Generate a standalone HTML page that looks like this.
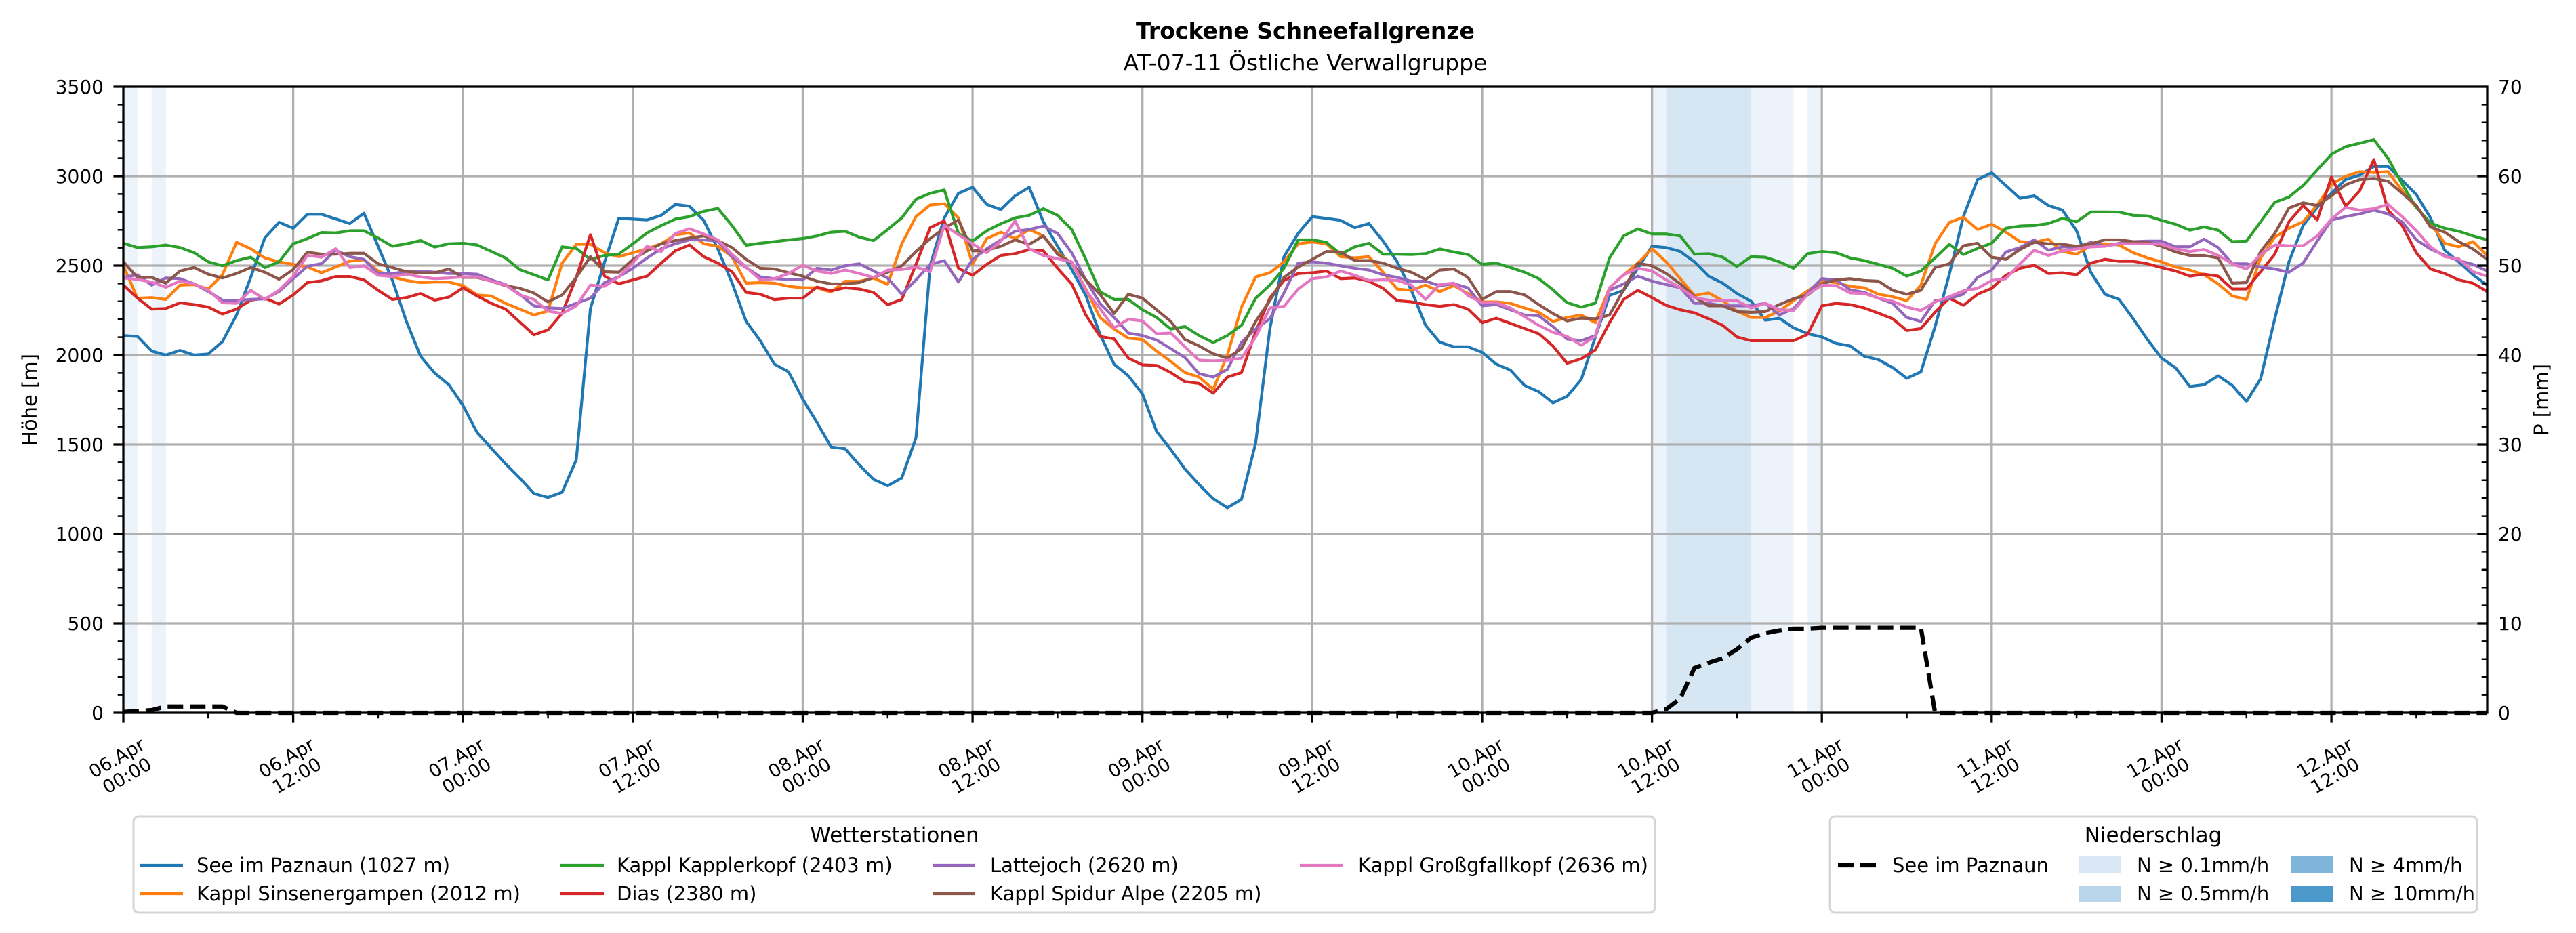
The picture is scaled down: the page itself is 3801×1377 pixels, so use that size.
<!DOCTYPE html>
<html><head><meta charset="utf-8"><style>
html,body{margin:0;padding:0;background:#fff;}
svg{display:block;font-family:"DejaVu Sans","Liberation Sans",sans-serif;}
</style></head><body>
<svg width="3801" height="1377" viewBox="0 0 3801 1377" xmlns="http://www.w3.org/2000/svg">
<rect x="0" y="0" width="3801" height="1377" fill="#fff"/>
<!-- title -->
<text x="1926" y="57" text-anchor="middle" font-size="33" font-weight="bold">Trockene Schneefallgrenze</text>
<text x="1926" y="104" text-anchor="middle" font-size="33">AT-07-11 Östliche Verwallgruppe</text>
<!-- precipitation shading -->
<g>
<rect x="182" y="128" width="20.9" height="924" fill="#edf3fa"/>
<rect x="223.8" y="128" width="20.9" height="924" fill="#edf3fa"/>
<rect x="2437.6" y="128" width="20.9" height="924" fill="#edf3fa"/>
<rect x="2458.5" y="128" width="125.3" height="924" fill="#d6e6f2"/>
<rect x="2583.8" y="128" width="62.6" height="924" fill="#edf3fa"/>
<rect x="2667.3" y="128" width="20.9" height="924" fill="#edf3fa"/>
</g>
<!-- grid -->
<g stroke="#b0b0b0" stroke-width="3.3" fill="none">
<path d="M432.6 128V1052M683.2 128V1052M933.9 128V1052M1184.5 128V1052M1435.1 128V1052M1685.7 128V1052M1936.3 128V1052M2187 128V1052M2437.6 128V1052M2688.2 128V1052M2938.8 128V1052M3189.4 128V1052M3440.1 128V1052"/>
<path d="M182 920H3670M182 788H3670M182 656H3670M182 524H3670M182 392H3670M182 260H3670"/>
</g>
<!-- series -->
<g transform="translate(182,1052) scale(20.885,-0.264)" fill="none" stroke-width="4.2" stroke-linejoin="round">
<polyline vector-effect="non-scaling-stroke" stroke="#1f77b4" points="0,2109 1,2104 2,2022 3,2000 4,2026 5,2000 6,2006 7,2075 8,2224 9,2434 10,2656 11,2742 12,2709 13,2787 14,2787 15,2761 16,2735 17,2793 18,2608 19,2420 20,2188 21,1993 22,1899 23,1834 24,1718 25,1566 26,1479 27,1392 28,1313 29,1226 30,1204 31,1233 32,1414 33,2260 34,2520 35,2764 36,2760 37,2755 38,2781 39,2842 40,2832 41,2753 42,2593 43,2405 44,2188 45,2080 46,1949 47,1906 48,1754 49,1624 50,1486 51,1476 52,1385 53,1305 54,1269 55,1313 56,1537 57,2500 58,2767 59,2904 60,2938 61,2842 62,2813 63,2890 64,2938 65,2745 66,2608 67,2478 68,2333 69,2116 70,1949 71,1884 72,1783 73,1573 74,1472 75,1363 76,1276 77,1197 78,1146 79,1193 80,1508 81,2145 82,2550 83,2680 84,2774 85,2764 86,2753 87,2712 88,2735 89,2637 90,2521 91,2362 92,2167 93,2072 94,2046 95,2046 96,2015 97,1949 98,1916 99,1830 100,1795 101,1733 102,1769 103,1863 104,2101 105,2333 106,2362 107,2485 108,2608 109,2601 110,2579 111,2521 112,2441 113,2402 114,2344 115,2301 116,2195 117,2206 118,2152 119,2119 120,2101 121,2065 122,2051 123,1993 124,1974 125,1930 126,1870 127,1906 128,2159 129,2449 130,2774 131,2981 132,3019 133,2948 134,2876 135,2890 136,2836 137,2810 138,2695 139,2463 140,2340 141,2311 142,2203 143,2087 144,1983 145,1928 146,1824 147,1834 148,1884 149,1830 150,1740 151,1867 152,2203 153,2521 154,2724 155,2825 156,2904 157,2981 158,3006 159,3054 160,3054 161,2977 162,2897 163,2767 164,2586 165,2521 166,2449 167,2391"/>
<polyline vector-effect="non-scaling-stroke" stroke="#ff7f0e" points="0,2499 1,2318 2,2321 3,2311 4,2391 5,2394 6,2369 7,2449 8,2630 9,2594 10,2543 11,2521 12,2507 13,2492 14,2460 15,2492 16,2525 17,2533 18,2470 19,2437 20,2417 21,2405 22,2408 23,2408 24,2388 25,2336 26,2330 27,2289 28,2257 29,2224 30,2246 31,2514 32,2619 33,2619 34,2572 35,2550 36,2572 37,2594 38,2622 39,2673 40,2683 41,2622 42,2608 43,2550 44,2402 45,2405 46,2402 47,2384 48,2376 49,2376 50,2352 51,2412 52,2412 53,2430 54,2395 55,2622 56,2774 57,2839 58,2846 59,2767 60,2507 61,2651 62,2687 63,2651 64,2702 65,2666 66,2572 67,2514 68,2369 69,2210 70,2145 71,2094 72,2087 73,2022 74,1964 75,1902 76,1877 77,1809 78,2000 79,2268 80,2437 81,2460 82,2521 83,2622 84,2632 85,2622 86,2550 87,2543 88,2550 89,2463 90,2369 91,2362 92,2391 93,2355 94,2388 95,2344 96,2297 97,2297 98,2289 99,2263 100,2239 101,2188 102,2210 103,2224 104,2181 105,2376 106,2449 107,2514 108,2594 109,2521 110,2427 111,2333 112,2347 113,2304 114,2246 115,2210 116,2210 117,2246 118,2304 119,2359 120,2413 121,2405 122,2384 123,2376 124,2340 125,2326 126,2304 127,2391 128,2622 129,2741 130,2770 131,2702 132,2731 133,2687 134,2634 135,2630 136,2648 137,2579 138,2564 139,2611 140,2622 141,2615 142,2572 143,2543 144,2521 145,2492 146,2475 147,2449 148,2398 149,2330 150,2311 151,2543 152,2659 153,2709 154,2745 155,2839 156,2955 157,2999 158,3025 159,3020 160,3025 161,2919 162,2825 163,2738 164,2625 165,2605 166,2634 167,2557"/>
<polyline vector-effect="non-scaling-stroke" stroke="#2ca02c" points="0,2625 1,2601 2,2605 3,2615 4,2601 5,2572 6,2521 7,2499 8,2528 9,2547 10,2489 11,2521 12,2622 13,2651 14,2685 15,2683 16,2695 17,2695 18,2654 19,2608 20,2622 21,2640 22,2604 23,2622 24,2625 25,2615 26,2579 27,2543 28,2478 29,2449 30,2420 31,2605 32,2596 33,2535 34,2557 35,2564 36,2622 37,2683 38,2724 39,2760 40,2774 41,2803 42,2820 43,2724 44,2614 45,2625 46,2634 47,2644 48,2651 49,2666 50,2687 51,2692 52,2659 53,2640 54,2702 55,2767 56,2871 57,2904 58,2923 59,2680 60,2637 61,2695 62,2734 63,2767 64,2781 65,2818 66,2781 67,2702 68,2535 69,2354 70,2311 71,2311 72,2253 73,2210 74,2145 75,2159 76,2109 77,2070 78,2109 79,2166 80,2318 81,2391 82,2485 83,2644 84,2644 85,2630 86,2564 87,2605 88,2625 89,2564 90,2564 91,2562 92,2567 93,2593 94,2576 95,2562 96,2507 97,2514 98,2489 99,2463 100,2427 101,2365 102,2293 103,2268 104,2290 105,2543 106,2666 107,2705 108,2677 109,2677 110,2666 111,2564 112,2567 113,2547 114,2495 115,2550 116,2547 117,2521 118,2485 119,2567 120,2579 121,2572 122,2543 123,2528 124,2507 125,2485 126,2441 127,2470 128,2543 129,2619 130,2562 131,2596 132,2625 133,2709 134,2721 135,2724 136,2735 137,2764 138,2745 139,2800 140,2800 141,2799 142,2781 143,2778 144,2753 145,2731 146,2698 147,2716 148,2698 149,2634 150,2637 151,2745 152,2854 153,2883 154,2948 155,3035 156,3122 157,3165 158,3184 159,3204 160,3100 161,2955 162,2825 163,2738 164,2709 165,2692 166,2666 167,2644"/>
<polyline vector-effect="non-scaling-stroke" stroke="#d62728" points="0,2391 1,2318 2,2257 3,2260 4,2292 5,2282 6,2268 7,2229 8,2257 9,2307 10,2318 11,2285 12,2336 13,2405 14,2415 15,2439 16,2439 17,2420 18,2362 19,2311 20,2321 21,2344 22,2307 23,2324 24,2376 25,2330 26,2289 27,2257 28,2185 29,2113 30,2140 31,2234 32,2434 33,2673 34,2441 35,2398 36,2420 37,2441 38,2514 39,2583 40,2615 41,2550 42,2514 43,2466 44,2350 45,2340 46,2310 47,2318 48,2318 49,2380 50,2359 51,2376 52,2369 53,2350 54,2281 55,2311 56,2507 57,2712 58,2750 59,2485 60,2446 61,2507 62,2557 63,2567 64,2589 65,2583 66,2485 67,2398 68,2224 69,2104 70,2090 71,1983 72,1945 73,1942 74,1902 75,1851 76,1841 77,1787 78,1877 79,1902 80,2130 81,2318 82,2417 83,2456 84,2460 85,2470 86,2427 87,2431 88,2413 89,2373 90,2304 91,2297 92,2282 93,2272 94,2282 95,2257 96,2181 97,2206 98,2177 99,2148 100,2119 101,2051 102,1954 103,1979 104,2029 105,2181 106,2311 107,2362 108,2321 109,2278 110,2253 111,2236 112,2203 113,2166 114,2101 115,2080 116,2080 117,2080 118,2080 119,2116 120,2275 121,2289 122,2282 123,2263 124,2234 125,2203 126,2137 127,2148 128,2239 129,2318 130,2278 131,2340 132,2373 133,2446 134,2485 135,2502 136,2456 137,2460 138,2449 139,2514 140,2535 141,2524 142,2524 143,2510 144,2489 145,2470 146,2441 147,2452 148,2441 149,2369 150,2369 151,2466 152,2564 153,2745 154,2836 155,2755 156,2995 157,2832 158,2919 159,3093 160,2810 161,2724 162,2572 163,2481 164,2456 165,2420 166,2402 167,2355"/>
<polyline vector-effect="non-scaling-stroke" stroke="#9467bd" points="0,2434 1,2449 2,2391 3,2431 4,2427 5,2398 6,2355 7,2307 8,2304 9,2311 10,2314 11,2355 12,2427 13,2496 14,2511 15,2586 16,2550 17,2535 18,2456 19,2456 20,2466 21,2470 22,2463 23,2456 24,2456 25,2452 26,2420 27,2394 28,2340 29,2275 30,2264 31,2260 32,2289 33,2318 34,2405 35,2437 36,2485 37,2543 38,2594 39,2622 40,2644 41,2644 42,2637 43,2550 44,2489 45,2437 46,2427 47,2423 48,2420 49,2485 50,2475 51,2499 52,2510 53,2470 54,2430 55,2340 56,2420 57,2507 58,2528 59,2408 60,2535 61,2594 62,2644 63,2692 64,2702 65,2721 66,2680 67,2572 68,2420 69,2289 70,2210 71,2123 72,2109 73,2084 74,2036 75,1986 76,1896 77,1877 78,1920 79,2072 80,2145 81,2203 82,2347 83,2514 84,2521 85,2514 86,2499 87,2485 88,2475 89,2449 90,2434 91,2413 92,2413 93,2388 94,2398 95,2376 96,2275 97,2282 98,2253 99,2224 100,2220 101,2159 102,2090 103,2080 104,2109 105,2362 106,2398 107,2441 108,2413 109,2394 110,2376 111,2289 112,2289 113,2275 114,2275 115,2275 116,2289 117,2224 118,2260 119,2347 120,2427 121,2420 122,2365 123,2350 124,2318 125,2289 126,2210 127,2188 128,2304 129,2315 130,2340 131,2434 132,2475 133,2576 134,2601 135,2644 136,2586 137,2605 138,2601 139,2630 140,2608 141,2625 142,2634 143,2637 144,2637 145,2605 146,2605 147,2648 148,2601 149,2510 150,2510 151,2492 152,2481 153,2463 154,2514 155,2637 156,2755 157,2774 158,2789 159,2810 160,2789 161,2745 162,2644 163,2593 164,2557 165,2528 166,2507 167,2470"/>
<polyline vector-effect="non-scaling-stroke" stroke="#8c564b" points="0,2521 1,2434 2,2434 3,2402 4,2470 5,2489 6,2452 7,2431 8,2456 9,2489 10,2463 11,2424 12,2478 13,2575 14,2564 15,2564 16,2569 17,2569 18,2510 19,2489 20,2466 21,2460 22,2460 23,2481 24,2434 25,2434 26,2413 27,2388 28,2373 29,2347 30,2297 31,2336 32,2434 33,2550 34,2466 35,2463 36,2535 37,2582 38,2622 39,2640 40,2654 41,2666 42,2640 43,2601 44,2535 45,2485 46,2481 47,2460 48,2441 49,2413 50,2398 51,2398 52,2405 53,2434 54,2463 55,2499 56,2579 57,2651 58,2709 59,2755 60,2582 61,2586 62,2608 63,2644 64,2619 65,2666 66,2564 67,2514 68,2420 69,2340 70,2232 71,2340 72,2318 73,2253 74,2188 75,2087 76,2051 77,2007 78,1983 79,2036 80,2188 81,2304 82,2434 83,2492 84,2535 85,2579 86,2576 87,2528 88,2528 89,2514 90,2485 91,2463 92,2423 93,2475 94,2481 95,2434 96,2311 97,2355 98,2355 99,2336 100,2282 101,2232 102,2191 103,2206 104,2203 105,2224 106,2365 107,2514 108,2499 109,2456 110,2398 111,2326 112,2275 113,2275 114,2243 115,2239 116,2243 117,2282 118,2315 119,2336 120,2398 121,2420 122,2427 123,2417 124,2413 125,2362 126,2340 127,2362 128,2489 129,2510 130,2611 131,2625 132,2547 133,2535 134,2590 135,2630 136,2622 137,2619 138,2608 139,2622 140,2644 141,2644 142,2634 143,2630 144,2608 145,2576 146,2557 147,2557 148,2543 149,2402 150,2405 151,2579 152,2680 153,2822 154,2851 155,2836 156,2890 157,2952 158,2981 159,2987 160,2972 161,2904 162,2836 163,2716 164,2687 165,2634 166,2593 167,2535"/>
<polyline vector-effect="non-scaling-stroke" stroke="#e377c2" points="0,2431 1,2423 2,2408 3,2379 4,2413 5,2398 6,2362 7,2292 8,2289 9,2362 10,2311 11,2362 12,2441 13,2557 14,2547 15,2594 16,2489 17,2499 18,2446 19,2439 20,2452 21,2437 22,2427 23,2431 24,2437 25,2437 26,2413 27,2391 28,2336 29,2311 30,2246 31,2232 32,2275 33,2391 34,2384 35,2437 36,2514 37,2608 38,2579 39,2680 40,2706 41,2677 42,2644 43,2564 44,2492 45,2420 46,2427 47,2456 48,2502 49,2470 50,2456 51,2475 52,2456 53,2434 54,2475 55,2478 56,2492 57,2466 58,2726 59,2673 60,2622 61,2572 62,2637 63,2750 64,2594 65,2557 66,2538 67,2521 68,2362 69,2260 70,2152 71,2200 72,2191 73,2119 74,2123 75,2046 76,1971 77,1968 78,1971 79,1983 80,2101 81,2263 82,2272 83,2369 84,2427 85,2437 86,2470 87,2446 88,2417 89,2420 90,2417 91,2391 92,2311 93,2394 94,2402 95,2333 96,2293 97,2293 98,2263 99,2214 100,2166 101,2127 102,2104 103,2055 104,2104 105,2376 106,2449 107,2485 108,2470 109,2420 110,2376 111,2321 112,2307 113,2304 114,2304 115,2263 116,2289 117,2253 118,2249 119,2340 120,2391 121,2388 122,2347 123,2344 124,2318 125,2301 126,2268 127,2249 128,2297 129,2326 130,2359 131,2373 132,2417 133,2427 134,2510 135,2586 136,2557 137,2582 138,2593 139,2605 140,2608 141,2622 142,2622 143,2622 144,2619 145,2593 146,2579 147,2590 148,2557 149,2510 150,2481 151,2562 152,2615 153,2611 154,2611 155,2666 156,2760 157,2825 158,2810 159,2818 160,2842 161,2774 162,2695 163,2605 164,2550 165,2538 166,2466 167,2441"/>
</g>
<!-- precipitation dashed -->
<polyline fill="none" stroke="#000" stroke-width="6.25" stroke-dasharray="23 10" points="182,1050.7 202.9,1049.4 223.8,1048 244.7,1042.8 328.2,1042.8 349.1,1052 2437.6,1052 2458.5,1046.7 2479.4,1030.9 2500.2,986 2521.1,978.1 2542,971.5 2562.9,958.3 2583.8,941.1 2604.7,934.5 2625.5,930.6 2646.4,927.9 2667.3,927.9 2688.2,926.6 2834.4,926.6 2855.3,1052 3670,1052"/>
<!-- spines -->
<rect x="182" y="128" width="3488" height="924" fill="none" stroke="#000" stroke-width="3.3"/>
<!-- ticks -->
<g stroke="#000" fill="none">
<path stroke-width="3.3" d="M167.4 1052H182M167.4 920H182M167.4 788H182M167.4 656H182M167.4 524H182M167.4 392H182M167.4 260H182M167.4 128H182"/>
<path stroke-width="2.5" d="M173.7 1025.6H182M173.7 999.2H182M173.7 972.8H182M173.7 946.4H182M173.7 893.6H182M173.7 867.2H182M173.7 840.8H182M173.7 814.4H182M173.7 761.6H182M173.7 735.2H182M173.7 708.8H182M173.7 682.4H182M173.7 629.6H182M173.7 603.2H182M173.7 576.8H182M173.7 550.4H182M173.7 497.6H182M173.7 471.2H182M173.7 444.8H182M173.7 418.4H182M173.7 365.6H182M173.7 339.2H182M173.7 312.8H182M173.7 286.4H182M173.7 233.6H182M173.7 207.2H182M173.7 180.8H182M173.7 154.4H182"/>
<path stroke-width="3.3" d="M3655.4 920H3670M3655.4 788H3670M3655.4 656H3670M3655.4 524H3670M3655.4 392H3670M3655.4 260H3670"/>
<path stroke-width="2.5" d="M3661.7 1025.6H3670M3661.7 999.2H3670M3661.7 972.8H3670M3661.7 946.4H3670M3661.7 893.6H3670M3661.7 867.2H3670M3661.7 840.8H3670M3661.7 814.4H3670M3661.7 761.6H3670M3661.7 735.2H3670M3661.7 708.8H3670M3661.7 682.4H3670M3661.7 629.6H3670M3661.7 603.2H3670M3661.7 576.8H3670M3661.7 550.4H3670M3661.7 497.6H3670M3661.7 471.2H3670M3661.7 444.8H3670M3661.7 418.4H3670M3661.7 365.6H3670M3661.7 339.2H3670M3661.7 312.8H3670M3661.7 286.4H3670M3661.7 233.6H3670M3661.7 207.2H3670M3661.7 180.8H3670M3661.7 154.4H3670"/>
<path stroke-width="3.3" d="M182 1052V1066.6M432.6 1052V1066.6M683.2 1052V1066.6M933.9 1052V1066.6M1184.5 1052V1066.6M1435.1 1052V1066.6M1685.7 1052V1066.6M1936.3 1052V1066.6M2187 1052V1066.6M2437.6 1052V1066.6M2688.2 1052V1066.6M2938.8 1052V1066.6M3189.4 1052V1066.6M3440.1 1052V1066.6"/>
<path stroke-width="2.5" d="M307.3 1052V1060.3M557.9 1052V1060.3M808.6 1052V1060.3M1059.2 1052V1060.3M1309.8 1052V1060.3M1560.4 1052V1060.3M1811 1052V1060.3M2061.7 1052V1060.3M2312.3 1052V1060.3M2562.9 1052V1060.3M2813.5 1052V1060.3M3064.1 1052V1060.3M3314.8 1052V1060.3M3565.4 1052V1060.3"/>
</g>
<!-- y tick labels -->
<g font-size="28" text-anchor="end">
<text x="153" y="1062">0</text><text x="153" y="930">500</text><text x="153" y="798">1000</text><text x="153" y="666">1500</text><text x="153" y="534">2000</text><text x="153" y="402">2500</text><text x="153" y="270">3000</text><text x="153" y="138">3500</text>
</g>
<g font-size="28" text-anchor="start">
<text x="3686" y="1062">0</text><text x="3686" y="930">10</text><text x="3686" y="798">20</text><text x="3686" y="666">30</text><text x="3686" y="534">40</text><text x="3686" y="402">50</text><text x="3686" y="270">60</text><text x="3686" y="138">70</text>
</g>
<!-- axis labels -->
<text transform="translate(54,590) rotate(-90)" text-anchor="middle" font-size="29">Höhe [m]</text>
<text transform="translate(3760,590) rotate(-90)" text-anchor="middle" font-size="29">P [mm]</text>
<!-- x tick labels -->
<g font-size="27" text-anchor="middle">
<g transform="translate(180,1132) rotate(-30)"><text y="-6">06.Apr</text><text y="24">00:00</text></g>
<g transform="translate(430.6,1132) rotate(-30)"><text y="-6">06.Apr</text><text y="24">12:00</text></g>
<g transform="translate(681.2,1132) rotate(-30)"><text y="-6">07.Apr</text><text y="24">00:00</text></g>
<g transform="translate(931.9,1132) rotate(-30)"><text y="-6">07.Apr</text><text y="24">12:00</text></g>
<g transform="translate(1182.5,1132) rotate(-30)"><text y="-6">08.Apr</text><text y="24">00:00</text></g>
<g transform="translate(1433.1,1132) rotate(-30)"><text y="-6">08.Apr</text><text y="24">12:00</text></g>
<g transform="translate(1683.7,1132) rotate(-30)"><text y="-6">09.Apr</text><text y="24">00:00</text></g>
<g transform="translate(1934.3,1132) rotate(-30)"><text y="-6">09.Apr</text><text y="24">12:00</text></g>
<g transform="translate(2185,1132) rotate(-30)"><text y="-6">10.Apr</text><text y="24">00:00</text></g>
<g transform="translate(2435.6,1132) rotate(-30)"><text y="-6">10.Apr</text><text y="24">12:00</text></g>
<g transform="translate(2686.2,1132) rotate(-30)"><text y="-6">11.Apr</text><text y="24">00:00</text></g>
<g transform="translate(2936.8,1132) rotate(-30)"><text y="-6">11.Apr</text><text y="24">12:00</text></g>
<g transform="translate(3187.4,1132) rotate(-30)"><text y="-6">12.Apr</text><text y="24">00:00</text></g>
<g transform="translate(3438.1,1132) rotate(-30)"><text y="-6">12.Apr</text><text y="24">12:00</text></g>
</g>
<!-- legend: Wetterstationen -->
<rect x="197" y="1205" width="2245" height="142" rx="8" ry="8" fill="#fff" stroke="#d5d5d5" stroke-width="3"/>
<text x="1320" y="1243" text-anchor="middle" font-size="31">Wetterstationen</text>
<g stroke-width="4.2">
<line x1="207" y1="1277" x2="270" y2="1277" stroke="#1f77b4"/>
<line x1="207" y1="1319" x2="270" y2="1319" stroke="#ff7f0e"/>
<line x1="827" y1="1277" x2="891" y2="1277" stroke="#2ca02c"/>
<line x1="827" y1="1319" x2="891" y2="1319" stroke="#d62728"/>
<line x1="1376" y1="1277" x2="1438" y2="1277" stroke="#9467bd"/>
<line x1="1376" y1="1319" x2="1438" y2="1319" stroke="#8c564b"/>
<line x1="1918" y1="1277" x2="1982" y2="1277" stroke="#e377c2"/>
</g>
<g font-size="29">
<text x="290" y="1287">See im Paznaun (1027 m)</text>
<text x="290" y="1329">Kappl Sinsenergampen (2012 m)</text>
<text x="910" y="1287">Kappl Kapplerkopf (2403 m)</text>
<text x="910" y="1329">Dias (2380 m)</text>
<text x="1461" y="1287">Lattejoch (2620 m)</text>
<text x="1461" y="1329">Kappl Spidur Alpe (2205 m)</text>
<text x="2004" y="1287">Kappl Großgfallkopf (2636 m)</text>
</g>
<!-- legend: Niederschlag -->
<rect x="2700" y="1205" width="955" height="142" rx="8" ry="8" fill="#fff" stroke="#d5d5d5" stroke-width="3"/>
<text x="3177" y="1243" text-anchor="middle" font-size="31">Niederschlag</text>
<line x1="2712" y1="1277" x2="2768" y2="1277" stroke="#000" stroke-width="6.25" stroke-dasharray="23 10"/>
<rect x="3067" y="1264" width="63" height="25" fill="#dae8f5"/>
<rect x="3067" y="1307" width="63" height="24" fill="#b9d5ea"/>
<rect x="3381" y="1264" width="62" height="25" fill="#7fb5da"/>
<rect x="3381" y="1307" width="62" height="24" fill="#4b98ca"/>
<g font-size="29">
<text x="2792" y="1287">See im Paznaun</text>
<text x="3153" y="1287">N ≥ 0.1mm/h</text>
<text x="3153" y="1329">N ≥ 0.5mm/h</text>
<text x="3466" y="1287">N ≥ 4mm/h</text>
<text x="3466" y="1329">N ≥ 10mm/h</text>
</g>
</svg>
</body></html>
